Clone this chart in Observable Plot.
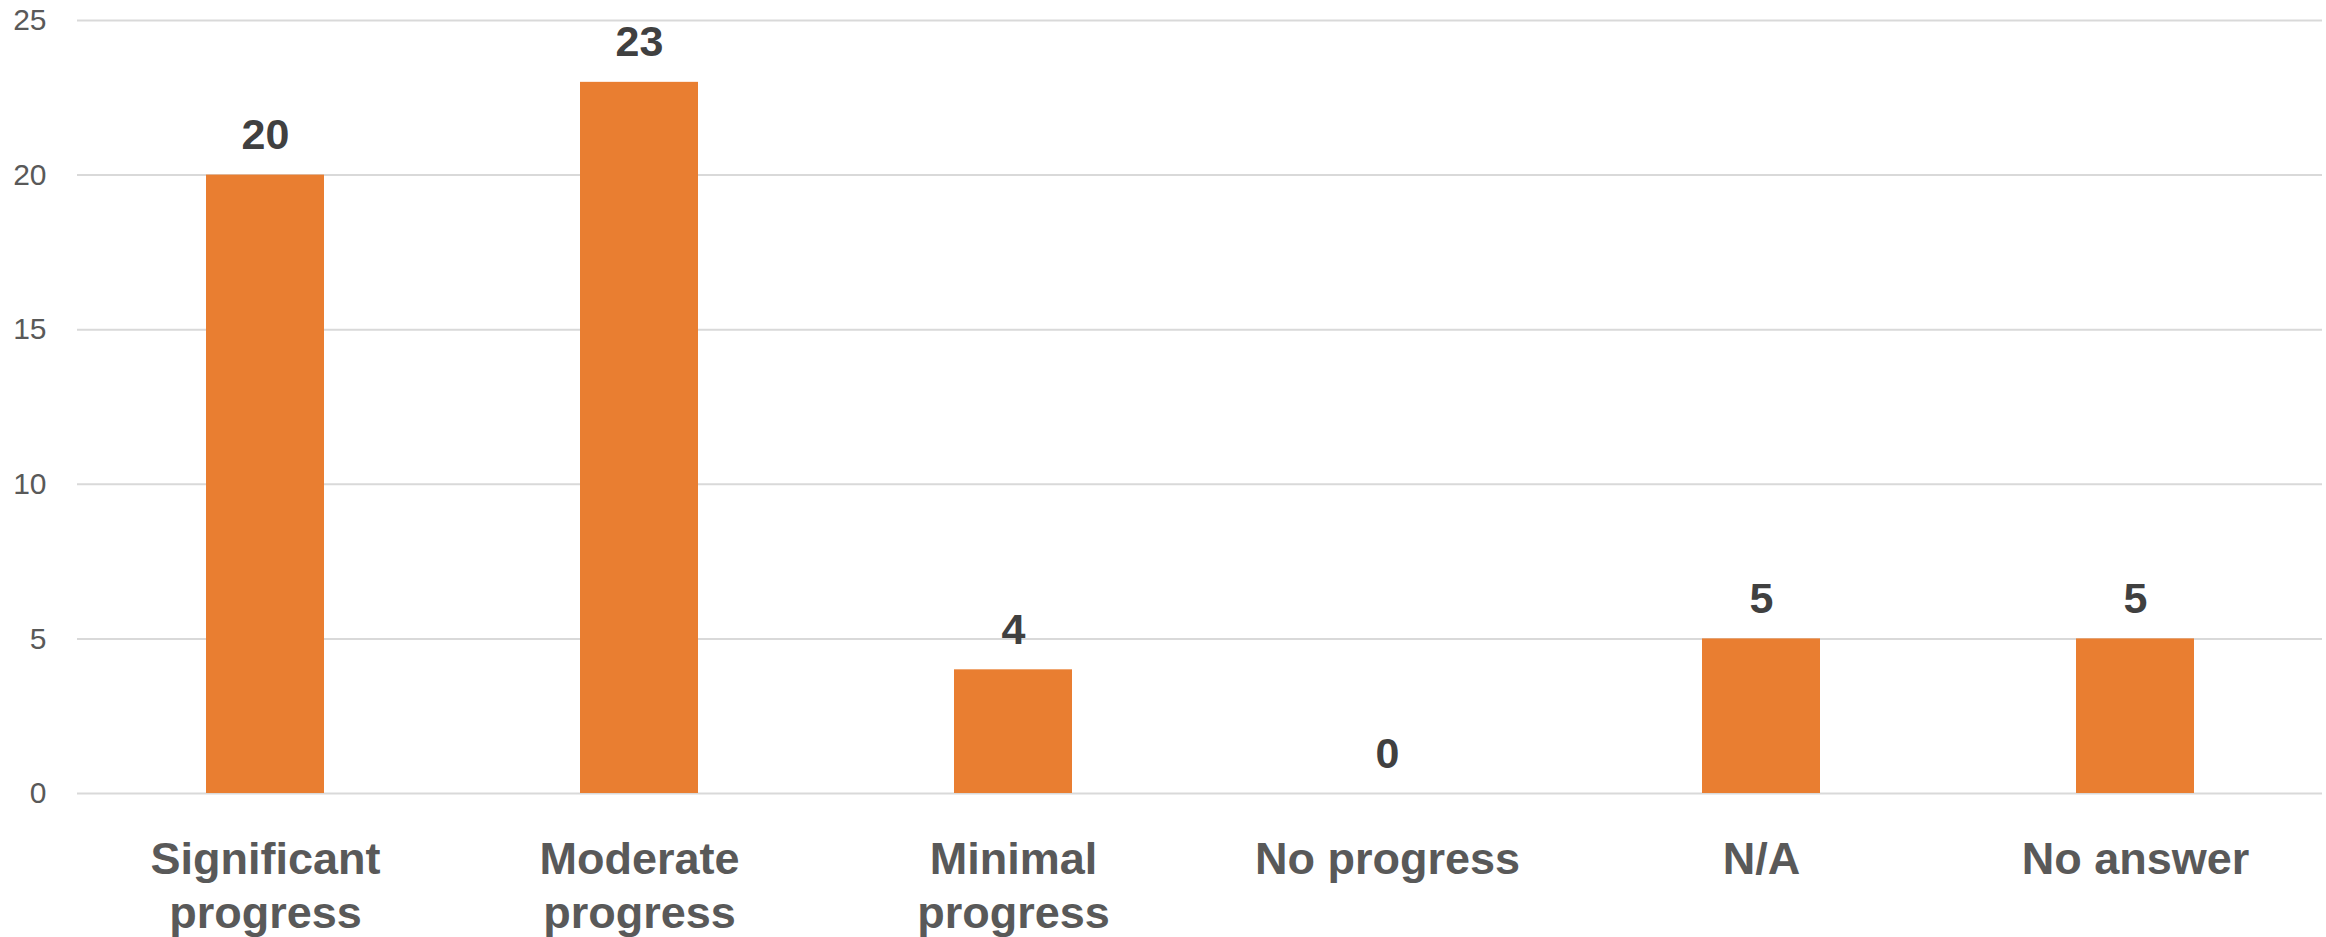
<!DOCTYPE html>
<html>
<head>
<meta charset="utf-8">
<script src="https://cdn.jsdelivr.net/npm/d3@7"></script>
<script src="https://cdn.jsdelivr.net/npm/@observablehq/plot@0.6"></script>
<style>
  html, body { margin: 0; padding: 0; background: #ffffff; }
  #chart svg { display: block; }
</style>
</head>
<body>
<div id="chart"></div>
<script>
// Survey responses: reported progress per category
const categories = ["Significant progress", "Moderate progress", "Minimal progress", "No progress", "N/A", "No answer"];
const tickLabels = ["Significant\nprogress", "Moderate\nprogress", "Minimal\nprogress", "No progress", "N/A", "No answer"];
const counts = [20, 23, 4, 0, 5, 5];
const yTicks = [0, 5, 10, 15, 20, 25];

const data = categories.map((c, i) => ({category: c, count: counts[i]}));
const labelOf = new Map(categories.map((c, i) => [c, tickLabels[i]]));

const chart = Plot.plot({
  width: 2326,
  height: 937,
  marginLeft: 77,
  marginRight: 4,
  marginTop: 20,
  marginBottom: 144,
  style: {fontFamily: "'Liberation Sans', Arial, sans-serif", background: "#ffffff"},
  x: {domain: categories, paddingInner: 0.685, paddingOuter: 0.3425},
  y: {domain: [0, 25]},
  marks: [
    Plot.gridY(yTicks, {stroke: "#d9d9d9", strokeOpacity: 1, strokeWidth: 2}),
    Plot.axisY(yTicks, {
      tickSize: 0, tickPadding: 31, label: null,
      fontSize: 30, fill: "#595959"
    }),
    Plot.axisX({
      tickSize: 0, tickPadding: 42, label: null,
      tickFormat: (d) => labelOf.get(d),
      fontSize: 45, fontWeight: "bold", fill: "#595959", lineHeight: 1.2
    }),
    Plot.barY(data, {x: "category", y: "count", fill: "#e97e31"}),
    Plot.text(data, {
      x: "category", y: "count", text: (d) => String(d.count),
      lineAnchor: "bottom", dy: -26,
      fontSize: 43, fontWeight: "bold", fill: "#404040"
    })
  ]
});

document.getElementById("chart").appendChild(chart);
</script>
</body>
</html>
